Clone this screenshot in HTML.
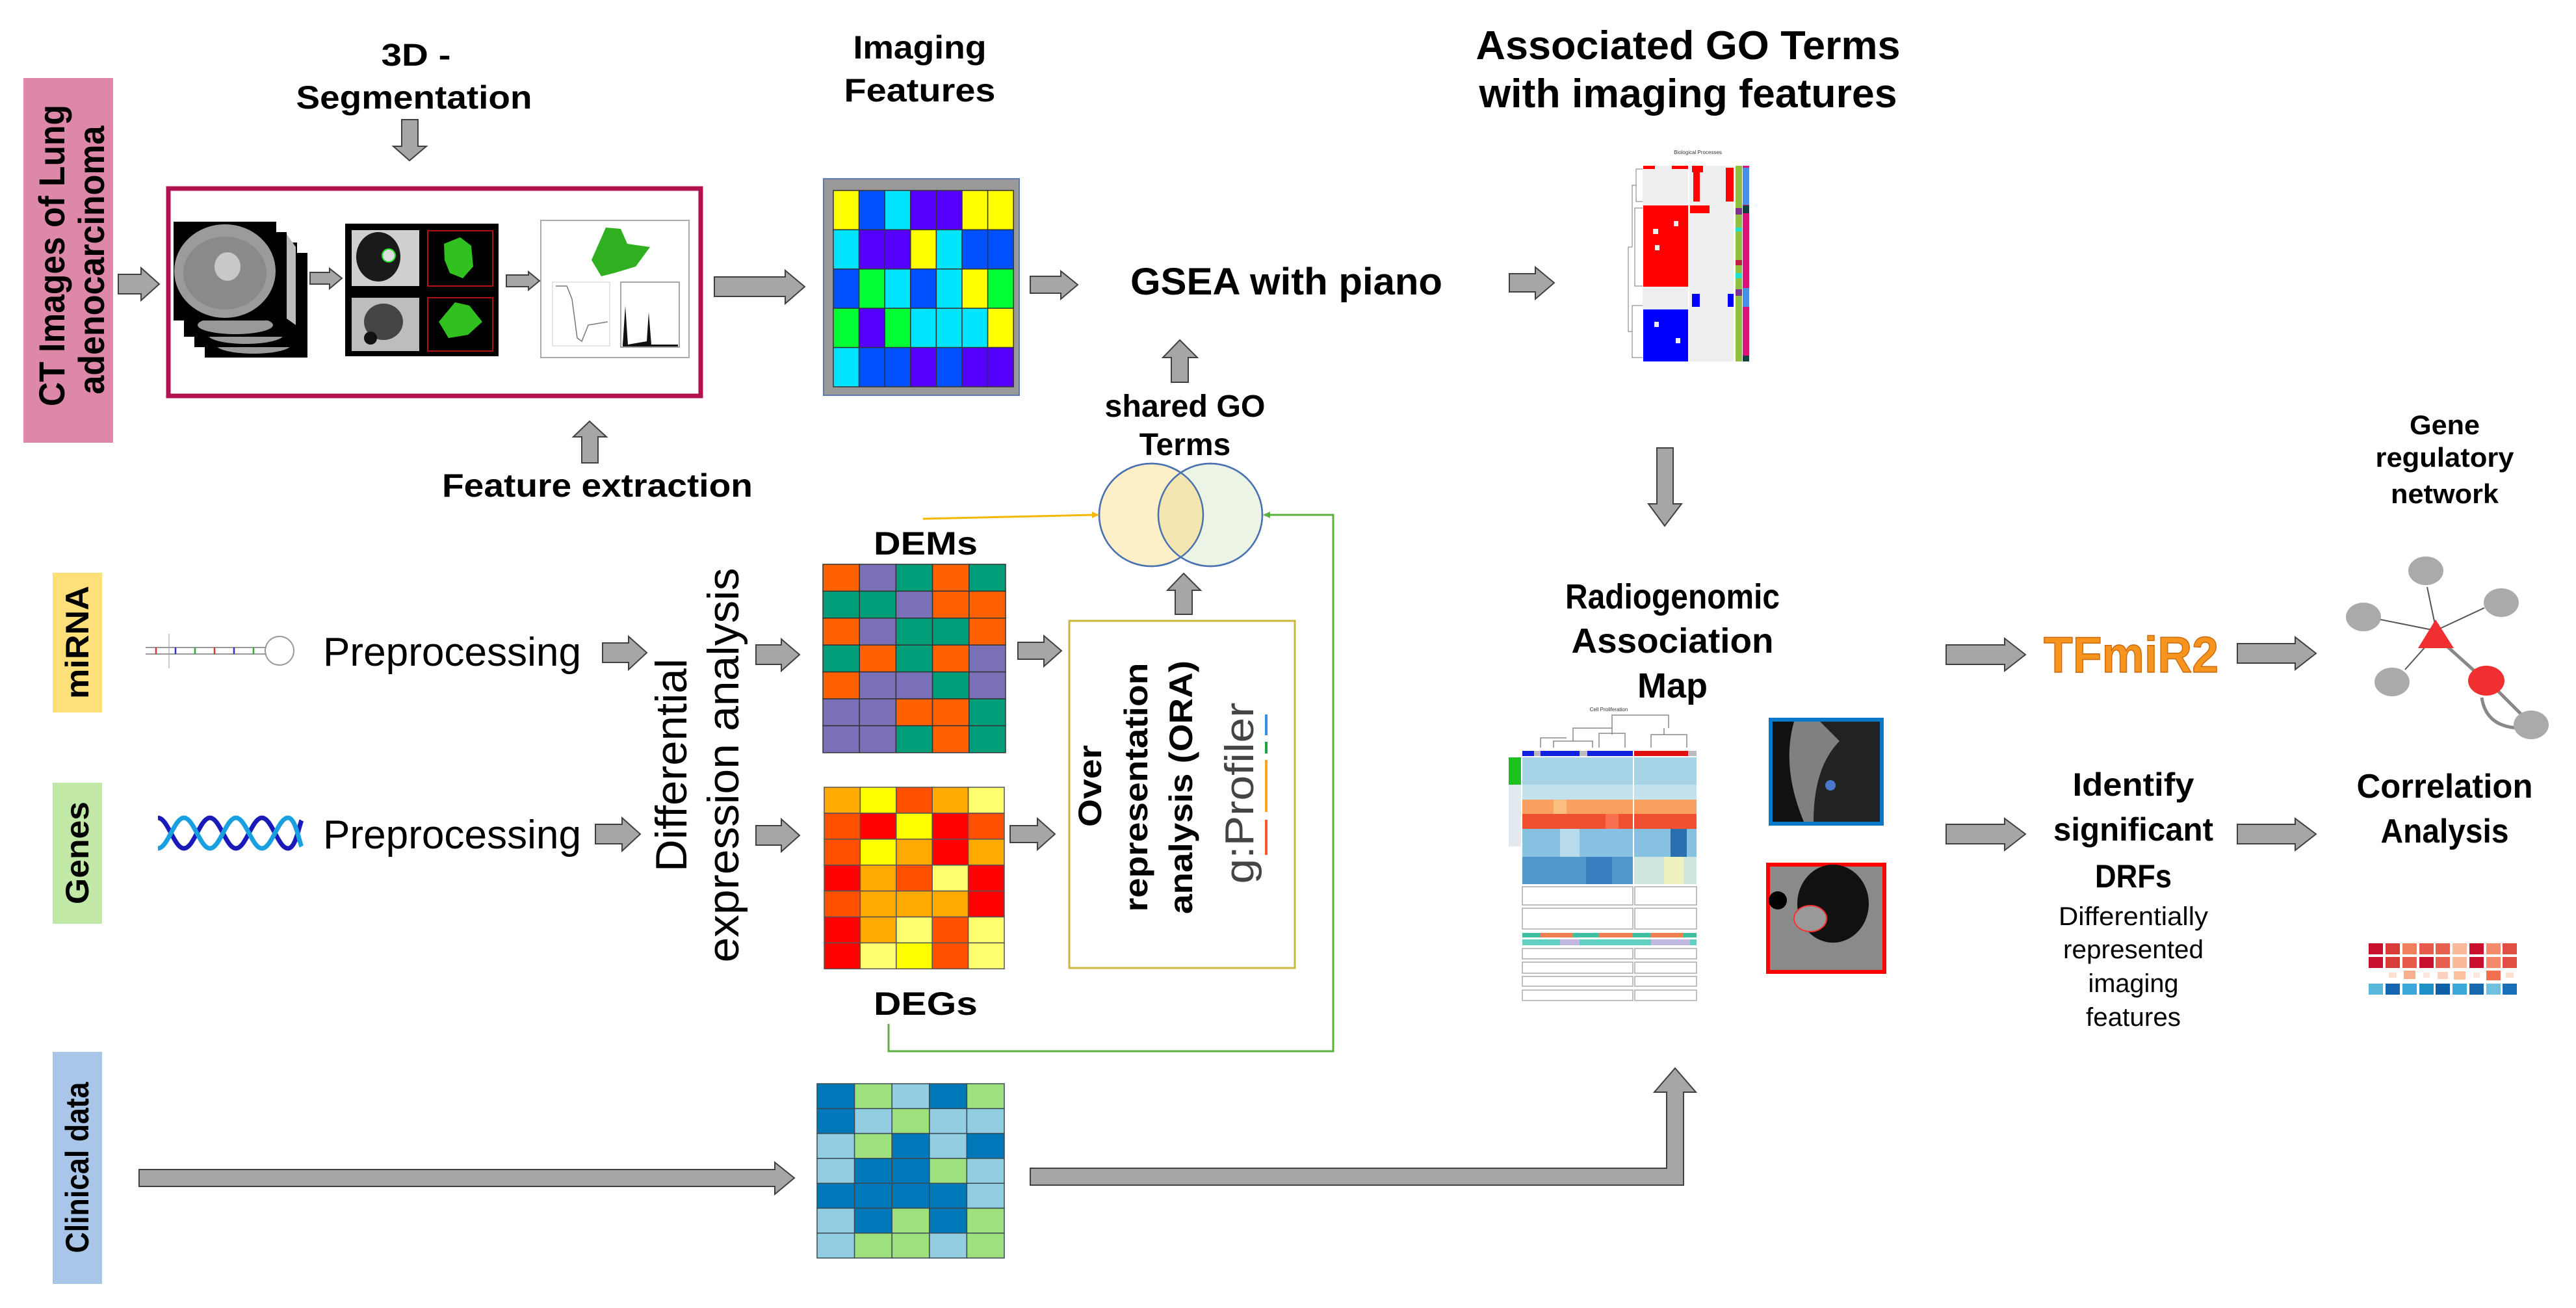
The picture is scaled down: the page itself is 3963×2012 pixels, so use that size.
<!DOCTYPE html>
<html><head><meta charset="utf-8"><style>
html,body{margin:0;padding:0;background:#fff}
svg{display:block}
text{font-family:"Liberation Sans",sans-serif}
</style></head><body>
<svg width="3963" height="2012" viewBox="0 0 3963 2012" xmlns="http://www.w3.org/2000/svg">
<rect width="3963" height="2012" fill="#fff"/>

<!-- side labels -->
<rect x="36" y="120" width="138" height="561" fill="#dd88a8"/>
<text transform="translate(99,393) rotate(-90)" text-anchor="middle" font-size="56" font-weight="bold" textLength="464" lengthAdjust="spacingAndGlyphs">CT Images of Lung</text>
<text transform="translate(160,400) rotate(-90)" text-anchor="middle" font-size="56" font-weight="bold" textLength="413" lengthAdjust="spacingAndGlyphs">adenocarcinoma</text>
<rect x="81" y="881" width="76" height="215" fill="#fde07a"/>
<text transform="translate(136,988) rotate(-90)" text-anchor="middle" font-size="50" font-weight="bold" textLength="174" lengthAdjust="spacingAndGlyphs">miRNA</text>
<rect x="81" y="1204" width="76" height="217" fill="#c2e8a8"/>
<text transform="translate(136,1312) rotate(-90)" text-anchor="middle" font-size="50" font-weight="bold" textLength="158" lengthAdjust="spacingAndGlyphs">Genes</text>
<rect x="81" y="1618" width="76" height="357" fill="#a9c6e8"/>
<text transform="translate(136,1796) rotate(-90)" text-anchor="middle" font-size="50" font-weight="bold" textLength="263" lengthAdjust="spacingAndGlyphs">Clinical data</text>

<!-- titles -->
<g font-weight="bold" text-anchor="middle">
<text x="640" y="101" font-size="48" textLength="107" lengthAdjust="spacingAndGlyphs">3D -</text>
<text x="637" y="167" font-size="50" textLength="363" lengthAdjust="spacingAndGlyphs">Segmentation</text>
<text x="919" y="764" font-size="50" textLength="478" lengthAdjust="spacingAndGlyphs">Feature extraction</text>
<text x="1415" y="90" font-size="50" textLength="205" lengthAdjust="spacingAndGlyphs">Imaging</text>
<text x="1415" y="156" font-size="50" textLength="233" lengthAdjust="spacingAndGlyphs">Features</text>
<text x="1979" y="453" font-size="58" textLength="480" lengthAdjust="spacingAndGlyphs">GSEA with piano</text>
<text x="1823" y="641" font-size="48" textLength="247" lengthAdjust="spacingAndGlyphs">shared GO</text>
<text x="1823" y="700" font-size="48">Terms</text>
<text x="2597" y="91" font-size="62" textLength="653" lengthAdjust="spacingAndGlyphs">Associated GO Terms</text>
<text x="2597" y="165" font-size="62" textLength="643" lengthAdjust="spacingAndGlyphs">with imaging features</text>
<text x="1424" y="853" font-size="50" textLength="160" lengthAdjust="spacingAndGlyphs">DEMs</text>
<text x="1424" y="1561" font-size="50" textLength="160" lengthAdjust="spacingAndGlyphs">DEGs</text>
<text x="2573" y="936" font-size="54" textLength="330" lengthAdjust="spacingAndGlyphs">Radiogenomic</text>
<text x="2573" y="1004" font-size="54" textLength="311" lengthAdjust="spacingAndGlyphs">Association</text>
<text x="2573" y="1073" font-size="54">Map</text>
<text x="3282" y="1224" font-size="50" textLength="187" lengthAdjust="spacingAndGlyphs">Identify</text>
<text x="3282" y="1293" font-size="50" textLength="246" lengthAdjust="spacingAndGlyphs">significant</text>
<text x="3282" y="1365" font-size="50" textLength="118" lengthAdjust="spacingAndGlyphs">DRFs</text>
<text x="3761" y="668" font-size="42" textLength="108" lengthAdjust="spacingAndGlyphs">Gene</text>
<text x="3761" y="718" font-size="42" textLength="213" lengthAdjust="spacingAndGlyphs">regulatory</text>
<text x="3761" y="774" font-size="42" textLength="166" lengthAdjust="spacingAndGlyphs">network</text>
<text x="3761" y="1227" font-size="52" textLength="271" lengthAdjust="spacingAndGlyphs">Correlation</text>
<text x="3761" y="1296" font-size="52" textLength="197" lengthAdjust="spacingAndGlyphs">Analysis</text>
</g>
<g text-anchor="middle" font-size="40">
<text x="3282" y="1423" textLength="230" lengthAdjust="spacingAndGlyphs">Differentially</text>
<text x="3282" y="1474" textLength="216" lengthAdjust="spacingAndGlyphs">represented</text>
<text x="3282" y="1526" textLength="139" lengthAdjust="spacingAndGlyphs">imaging</text>
<text x="3282" y="1578" textLength="146" lengthAdjust="spacingAndGlyphs">features</text>
</g>
<text x="3144" y="1034" font-size="78" font-weight="bold" fill="#f7941d" stroke="#c86a10" stroke-width="1.5" textLength="269" lengthAdjust="spacingAndGlyphs">TFmiR2</text>

<text x="497" y="1024" font-size="62" textLength="397" lengthAdjust="spacingAndGlyphs">Preprocessing</text>
<text x="497" y="1305" font-size="62" textLength="397" lengthAdjust="spacingAndGlyphs">Preprocessing</text>
<text transform="translate(1056,1177) rotate(-90)" text-anchor="middle" font-size="68" textLength="328" lengthAdjust="spacingAndGlyphs">Differential</text>
<text transform="translate(1136,1177) rotate(-90)" text-anchor="middle" font-size="68" textLength="607" lengthAdjust="spacingAndGlyphs">expression analysis</text>

<!-- ORA box -->
<rect x="1645" y="955" width="347" height="534" fill="#fff" stroke="#c8b840" stroke-width="3"/>
<g font-weight="bold" text-anchor="middle" font-size="50">
<text transform="translate(1694,1209) rotate(-90)" textLength="126" lengthAdjust="spacingAndGlyphs">Over</text>
<text transform="translate(1765,1211) rotate(-90)" textLength="383" lengthAdjust="spacingAndGlyphs">representation</text>
<text transform="translate(1834,1211) rotate(-90)" textLength="390" lengthAdjust="spacingAndGlyphs">analysis (ORA)</text>
</g>
<text transform="translate(1928,1220) rotate(-90)" text-anchor="middle" font-size="62" fill="#444" textLength="279" lengthAdjust="spacingAndGlyphs">g:Profiler</text>
<rect x="1946" y="1099" width="4" height="32" fill="#3a8ee0"/>
<rect x="1946" y="1141" width="4" height="18" fill="#20a040"/>
<rect x="1946" y="1169" width="4" height="80" fill="#f5a623"/>
<rect x="1946" y="1261" width="4" height="54" fill="#f05a30"/>

<!-- red segmentation box -->
<rect x="259" y="290" width="819" height="319" fill="#fff" stroke="#b0124f" stroke-width="7"/>
<!-- CT stack -->
<g>
<rect x="315" y="389" width="158" height="161" fill="#000"/>
<ellipse cx="390" cy="530" rx="58" ry="14" fill="#9a9a9a"/>
<rect x="299" y="373" width="158" height="161" fill="#000"/>
<ellipse cx="378" cy="515" rx="58" ry="14" fill="#999"/>
<rect x="283" y="357" width="158" height="161" fill="#000"/>
<ellipse cx="362" cy="500" rx="58" ry="14" fill="#999"/>
<rect x="267" y="341" width="158" height="152" fill="#000"/>
<ellipse cx="346" cy="417" rx="78" ry="72" fill="#9b9b9b"/>
<ellipse cx="346" cy="420" rx="64" ry="56" fill="#8a8a8a"/>
<ellipse cx="350" cy="410" rx="20" ry="22" fill="#c8c8c8"/>
<path d="M441 360 L455 380 L455 500 L441 490Z" fill="#bbb"/>
</g>
<!-- seg panel -->
<rect x="531" y="344" width="236" height="204" fill="#000"/>
<rect x="541" y="354" width="104" height="86" fill="#cfcfcf"/>
<ellipse cx="582" cy="395" rx="34" ry="38" fill="#1a1a1a"/>
<circle cx="598" cy="393" r="10" fill="#ddd" stroke="#20e020" stroke-width="2"/>
<rect x="658" y="355" width="100" height="85" fill="#000" stroke="#b01010" stroke-width="2"/>
<path d="M683 375 L708 365 L725 378 L728 410 L712 428 L692 420 L684 400Z" fill="#30c020"/>
<rect x="541" y="458" width="104" height="82" fill="#bdbdbd"/>
<ellipse cx="590" cy="495" rx="30" ry="28" fill="#444"/>
<circle cx="570" cy="520" r="10" fill="#111"/>
<rect x="658" y="458" width="100" height="82" fill="#000" stroke="#b01010" stroke-width="2"/>
<path d="M675 495 L700 465 L722 470 L742 495 L720 515 L690 520Z" fill="#30c020"/>
<!-- features panel -->
<rect x="832" y="339" width="228" height="211" fill="#fff" stroke="#aaa" stroke-width="2"/>
<path d="M910 400 L932 350 L955 352 L965 375 L1000 380 L978 410 L945 420 L925 425Z" fill="#30b020"/>
<rect x="850" y="434" width="88" height="98" fill="#fff" stroke="#ccc" stroke-width="1"/>
<path d="M855 440 L872 440 L880 460 L888 520 L895 525 L905 500 L935 495" fill="none" stroke="#777" stroke-width="1.5"/>
<rect x="955" y="434" width="90" height="100" fill="#fff" stroke="#888" stroke-width="1.5"/>
<path d="M958 530 L962 470 L966 530 L995 525 L998 480 L1002 530 L1043 530 L1043 533 L958 533Z" fill="#111"/>

<!-- Imaging features grid -->
<rect x="1267" y="275" width="301" height="333" fill="#999" stroke="#5a7ab0" stroke-width="2"/>
<g stroke="#333" stroke-width="1.5">
<!-- 7 cols w 39.6, 5 rows h 60.4 start 1282,293 -->
<rect x="1282" y="293" width="39.6" height="60.4" fill="#ffff00"/><rect x="1321.6" y="293" width="39.6" height="60.4" fill="#0050ff"/><rect x="1361.2" y="293" width="39.6" height="60.4" fill="#00e5ff"/><rect x="1400.8" y="293" width="39.6" height="60.4" fill="#5500ff"/><rect x="1440.4" y="293" width="39.6" height="60.4" fill="#5500ff"/><rect x="1480" y="293" width="39.6" height="60.4" fill="#ffff00"/><rect x="1519.6" y="293" width="39.6" height="60.4" fill="#ffff00"/>
<rect x="1282" y="353.4" width="39.6" height="60.4" fill="#00e5ff"/><rect x="1321.6" y="353.4" width="39.6" height="60.4" fill="#5500ff"/><rect x="1361.2" y="353.4" width="39.6" height="60.4" fill="#5500ff"/><rect x="1400.8" y="353.4" width="39.6" height="60.4" fill="#ffff00"/><rect x="1440.4" y="353.4" width="39.6" height="60.4" fill="#00e5ff"/><rect x="1480" y="353.4" width="39.6" height="60.4" fill="#0050ff"/><rect x="1519.6" y="353.4" width="39.6" height="60.4" fill="#0050ff"/>
<rect x="1282" y="413.8" width="39.6" height="60.4" fill="#0050ff"/><rect x="1321.6" y="413.8" width="39.6" height="60.4" fill="#00ff33"/><rect x="1361.2" y="413.8" width="39.6" height="60.4" fill="#00e5ff"/><rect x="1400.8" y="413.8" width="39.6" height="60.4" fill="#0050ff"/><rect x="1440.4" y="413.8" width="39.6" height="60.4" fill="#00e5ff"/><rect x="1480" y="413.8" width="39.6" height="60.4" fill="#ffff00"/><rect x="1519.6" y="413.8" width="39.6" height="60.4" fill="#00ff33"/>
<rect x="1282" y="474.2" width="39.6" height="60.4" fill="#00ff33"/><rect x="1321.6" y="474.2" width="39.6" height="60.4" fill="#5500ff"/><rect x="1361.2" y="474.2" width="39.6" height="60.4" fill="#00ff33"/><rect x="1400.8" y="474.2" width="39.6" height="60.4" fill="#00e5ff"/><rect x="1440.4" y="474.2" width="39.6" height="60.4" fill="#00e5ff"/><rect x="1480" y="474.2" width="39.6" height="60.4" fill="#00e5ff"/><rect x="1519.6" y="474.2" width="39.6" height="60.4" fill="#ffff00"/>
<rect x="1282" y="534.6" width="39.6" height="60.4" fill="#00e5ff"/><rect x="1321.6" y="534.6" width="39.6" height="60.4" fill="#0050ff"/><rect x="1361.2" y="534.6" width="39.6" height="60.4" fill="#0050ff"/><rect x="1400.8" y="534.6" width="39.6" height="60.4" fill="#5500ff"/><rect x="1440.4" y="534.6" width="39.6" height="60.4" fill="#0050ff"/><rect x="1480" y="534.6" width="39.6" height="60.4" fill="#5500ff"/><rect x="1519.6" y="534.6" width="39.6" height="60.4" fill="#5500ff"/>
</g>

<!-- DEMs grid 5x7: x1266 w56.2, y868 h41.4 -->
<g stroke="#333" stroke-width="1.5">
<rect x="1266" y="868" width="56.2" height="41.4" fill="#ff6000"/><rect x="1322.2" y="868" width="56.2" height="41.4" fill="#7a70b8"/><rect x="1378.4" y="868" width="56.2" height="41.4" fill="#009e78"/><rect x="1434.6" y="868" width="56.2" height="41.4" fill="#ff6000"/><rect x="1490.8" y="868" width="56.2" height="41.4" fill="#009e78"/>
<rect x="1266" y="909.4" width="56.2" height="41.4" fill="#009e78"/><rect x="1322.2" y="909.4" width="56.2" height="41.4" fill="#009e78"/><rect x="1378.4" y="909.4" width="56.2" height="41.4" fill="#7a70b8"/><rect x="1434.6" y="909.4" width="56.2" height="41.4" fill="#ff6000"/><rect x="1490.8" y="909.4" width="56.2" height="41.4" fill="#ff6000"/>
<rect x="1266" y="950.8" width="56.2" height="41.4" fill="#ff6000"/><rect x="1322.2" y="950.8" width="56.2" height="41.4" fill="#7a70b8"/><rect x="1378.4" y="950.8" width="56.2" height="41.4" fill="#009e78"/><rect x="1434.6" y="950.8" width="56.2" height="41.4" fill="#009e78"/><rect x="1490.8" y="950.8" width="56.2" height="41.4" fill="#ff6000"/>
<rect x="1266" y="992.2" width="56.2" height="41.4" fill="#009e78"/><rect x="1322.2" y="992.2" width="56.2" height="41.4" fill="#ff6000"/><rect x="1378.4" y="992.2" width="56.2" height="41.4" fill="#009e78"/><rect x="1434.6" y="992.2" width="56.2" height="41.4" fill="#ff6000"/><rect x="1490.8" y="992.2" width="56.2" height="41.4" fill="#7a70b8"/>
<rect x="1266" y="1033.6" width="56.2" height="41.4" fill="#ff6000"/><rect x="1322.2" y="1033.6" width="56.2" height="41.4" fill="#7a70b8"/><rect x="1378.4" y="1033.6" width="56.2" height="41.4" fill="#7a70b8"/><rect x="1434.6" y="1033.6" width="56.2" height="41.4" fill="#009e78"/><rect x="1490.8" y="1033.6" width="56.2" height="41.4" fill="#7a70b8"/>
<rect x="1266" y="1075" width="56.2" height="41.4" fill="#7a70b8"/><rect x="1322.2" y="1075" width="56.2" height="41.4" fill="#7a70b8"/><rect x="1378.4" y="1075" width="56.2" height="41.4" fill="#ff6000"/><rect x="1434.6" y="1075" width="56.2" height="41.4" fill="#ff6000"/><rect x="1490.8" y="1075" width="56.2" height="41.4" fill="#009e78"/>
<rect x="1266" y="1116.4" width="56.2" height="41.4" fill="#7a70b8"/><rect x="1322.2" y="1116.4" width="56.2" height="41.4" fill="#7a70b8"/><rect x="1378.4" y="1116.4" width="56.2" height="41.4" fill="#009e78"/><rect x="1434.6" y="1116.4" width="56.2" height="41.4" fill="#ff6000"/><rect x="1490.8" y="1116.4" width="56.2" height="41.4" fill="#009e78"/>
</g>

<!-- DEGs grid: x1268 w55.4, y1211 h39.9 -->
<g stroke="#555" stroke-width="1.5">
<rect x="1268" y="1211" width="55.4" height="39.9" fill="#ffaa00"/><rect x="1323.4" y="1211" width="55.4" height="39.9" fill="#ffff00"/><rect x="1378.8" y="1211" width="55.4" height="39.9" fill="#ff5000"/><rect x="1434.2" y="1211" width="55.4" height="39.9" fill="#ffaa00"/><rect x="1489.6" y="1211" width="55.4" height="39.9" fill="#ffff70"/>
<rect x="1268" y="1250.9" width="55.4" height="39.9" fill="#ff5000"/><rect x="1323.4" y="1250.9" width="55.4" height="39.9" fill="#ff0000"/><rect x="1378.8" y="1250.9" width="55.4" height="39.9" fill="#ffff00"/><rect x="1434.2" y="1250.9" width="55.4" height="39.9" fill="#ff0000"/><rect x="1489.6" y="1250.9" width="55.4" height="39.9" fill="#ff5000"/>
<rect x="1268" y="1290.8" width="55.4" height="39.9" fill="#ff5000"/><rect x="1323.4" y="1290.8" width="55.4" height="39.9" fill="#ffff00"/><rect x="1378.8" y="1290.8" width="55.4" height="39.9" fill="#ffaa00"/><rect x="1434.2" y="1290.8" width="55.4" height="39.9" fill="#ff0000"/><rect x="1489.6" y="1290.8" width="55.4" height="39.9" fill="#ffaa00"/>
<rect x="1268" y="1330.7" width="55.4" height="39.9" fill="#ff0000"/><rect x="1323.4" y="1330.7" width="55.4" height="39.9" fill="#ffaa00"/><rect x="1378.8" y="1330.7" width="55.4" height="39.9" fill="#ff5000"/><rect x="1434.2" y="1330.7" width="55.4" height="39.9" fill="#ffff70"/><rect x="1489.6" y="1330.7" width="55.4" height="39.9" fill="#ff0000"/>
<rect x="1268" y="1370.6" width="55.4" height="39.9" fill="#ff5000"/><rect x="1323.4" y="1370.6" width="55.4" height="39.9" fill="#ffaa00"/><rect x="1378.8" y="1370.6" width="55.4" height="39.9" fill="#ffaa00"/><rect x="1434.2" y="1370.6" width="55.4" height="39.9" fill="#ffaa00"/><rect x="1489.6" y="1370.6" width="55.4" height="39.9" fill="#ff0000"/>
<rect x="1268" y="1410.5" width="55.4" height="39.9" fill="#ff0000"/><rect x="1323.4" y="1410.5" width="55.4" height="39.9" fill="#ffaa00"/><rect x="1378.8" y="1410.5" width="55.4" height="39.9" fill="#ffff70"/><rect x="1434.2" y="1410.5" width="55.4" height="39.9" fill="#ff5000"/><rect x="1489.6" y="1410.5" width="55.4" height="39.9" fill="#ffff70"/>
<rect x="1268" y="1450.4" width="55.4" height="39.9" fill="#ff0000"/><rect x="1323.4" y="1450.4" width="55.4" height="39.9" fill="#ffff70"/><rect x="1378.8" y="1450.4" width="55.4" height="39.9" fill="#ffff00"/><rect x="1434.2" y="1450.4" width="55.4" height="39.9" fill="#ff5000"/><rect x="1489.6" y="1450.4" width="55.4" height="39.9" fill="#ffff70"/>
</g>

<!-- Clinical grid: x1257 w57.6, y1667 h38.3 -->
<g stroke="#3a4a50" stroke-width="1.5">
<rect x="1257" y="1667" width="57.6" height="38.3" fill="#0077b8"/><rect x="1314.6" y="1667" width="57.6" height="38.3" fill="#9ee07e"/><rect x="1372.2" y="1667" width="57.6" height="38.3" fill="#92cde2"/><rect x="1429.8" y="1667" width="57.6" height="38.3" fill="#0077b8"/><rect x="1487.4" y="1667" width="57.6" height="38.3" fill="#9ee07e"/>
<rect x="1257" y="1705.3" width="57.6" height="38.3" fill="#0077b8"/><rect x="1314.6" y="1705.3" width="57.6" height="38.3" fill="#92cde2"/><rect x="1372.2" y="1705.3" width="57.6" height="38.3" fill="#9ee07e"/><rect x="1429.8" y="1705.3" width="57.6" height="38.3" fill="#92cde2"/><rect x="1487.4" y="1705.3" width="57.6" height="38.3" fill="#92cde2"/>
<rect x="1257" y="1743.6" width="57.6" height="38.3" fill="#92cde2"/><rect x="1314.6" y="1743.6" width="57.6" height="38.3" fill="#9ee07e"/><rect x="1372.2" y="1743.6" width="57.6" height="38.3" fill="#0077b8"/><rect x="1429.8" y="1743.6" width="57.6" height="38.3" fill="#92cde2"/><rect x="1487.4" y="1743.6" width="57.6" height="38.3" fill="#0077b8"/>
<rect x="1257" y="1781.9" width="57.6" height="38.3" fill="#92cde2"/><rect x="1314.6" y="1781.9" width="57.6" height="38.3" fill="#0077b8"/><rect x="1372.2" y="1781.9" width="57.6" height="38.3" fill="#0077b8"/><rect x="1429.8" y="1781.9" width="57.6" height="38.3" fill="#9ee07e"/><rect x="1487.4" y="1781.9" width="57.6" height="38.3" fill="#92cde2"/>
<rect x="1257" y="1820.2" width="57.6" height="38.3" fill="#0077b8"/><rect x="1314.6" y="1820.2" width="57.6" height="38.3" fill="#0077b8"/><rect x="1372.2" y="1820.2" width="57.6" height="38.3" fill="#0077b8"/><rect x="1429.8" y="1820.2" width="57.6" height="38.3" fill="#0077b8"/><rect x="1487.4" y="1820.2" width="57.6" height="38.3" fill="#92cde2"/>
<rect x="1257" y="1858.5" width="57.6" height="38.3" fill="#92cde2"/><rect x="1314.6" y="1858.5" width="57.6" height="38.3" fill="#0077b8"/><rect x="1372.2" y="1858.5" width="57.6" height="38.3" fill="#9ee07e"/><rect x="1429.8" y="1858.5" width="57.6" height="38.3" fill="#0077b8"/><rect x="1487.4" y="1858.5" width="57.6" height="38.3" fill="#9ee07e"/>
<rect x="1257" y="1896.8" width="57.6" height="38.3" fill="#92cde2"/><rect x="1314.6" y="1896.8" width="57.6" height="38.3" fill="#9ee07e"/><rect x="1372.2" y="1896.8" width="57.6" height="38.3" fill="#9ee07e"/><rect x="1429.8" y="1896.8" width="57.6" height="38.3" fill="#92cde2"/><rect x="1487.4" y="1896.8" width="57.6" height="38.3" fill="#9ee07e"/>
</g>

<!-- icons -->
<g stroke="#999" stroke-width="2" fill="none">
<line x1="224" y1="996" x2="410" y2="996"/><line x1="224" y1="1006" x2="410" y2="1006"/>
<circle cx="430" cy="1001" r="22"/>
<line x1="260" y1="975" x2="260" y2="1028" stroke-width="1"/>
</g>
<g stroke-width="2.5">
<line x1="240" y1="996" x2="240" y2="1006" stroke="#d33"/><line x1="270" y1="996" x2="270" y2="1006" stroke="#33c"/><line x1="300" y1="996" x2="300" y2="1006" stroke="#3a3"/><line x1="330" y1="996" x2="330" y2="1006" stroke="#d33"/><line x1="360" y1="996" x2="360" y2="1006" stroke="#33c"/><line x1="390" y1="996" x2="390" y2="1006" stroke="#3a3"/>
</g>
<g fill="none" stroke-width="7">
<path d="M243 1258 C258 1258 268 1305 283 1305 C298 1305 308 1258 323 1258 C338 1258 348 1305 363 1305 C378 1305 388 1258 403 1258 C418 1258 428 1305 443 1305 C455 1305 460 1270 464 1262" stroke="#1a1ab8"/>
<path d="M243 1305 C258 1305 268 1258 283 1258 C298 1258 308 1305 323 1305 C338 1305 348 1258 363 1258 C378 1258 388 1305 403 1305 C418 1305 428 1258 443 1258 C455 1258 460 1295 464 1302" stroke="#18a0e0"/>
</g>

<!-- Venn -->
<ellipse cx="1771" cy="792" rx="80" ry="79" fill="#fdf0c8" stroke="#4a72b0" stroke-width="2.5"/>
<ellipse cx="1862" cy="792" rx="80" ry="79" fill="#e8f2e0" fill-opacity="0.85" stroke="#4a72b0" stroke-width="2.5"/>
<path d="M1816.5 727 A80 79 0 0 1 1816.5 857 A80 79 0 0 1 1816.5 727Z" fill="#f3e6b0"/>
<ellipse cx="1771" cy="792" rx="80" ry="79" fill="none" stroke="#4a72b0" stroke-width="2.5"/>
<ellipse cx="1862" cy="792" rx="80" ry="79" fill="none" stroke="#4a72b0" stroke-width="2.5"/>
<line x1="1420" y1="798" x2="1684" y2="792" stroke="#f5b800" stroke-width="3"/>
<polygon points="1691,792 1680,787 1680,797" fill="#f5b800"/>
<polyline points="1367,1575 1367,1617 2051,1617 2051,792 1952,792" fill="none" stroke="#5cb040" stroke-width="3"/>
<polygon points="1943,792 1954,787 1954,797" fill="#5cb040"/>

<!-- GO heatmap -->
<text x="2612" y="237" font-size="8" text-anchor="middle" fill="#333">Biological Processes</text>
<rect x="2527" y="255" width="140" height="301" fill="#eeeeee"/>
<line x1="2598" y1="255" x2="2598" y2="556" stroke="#fff" stroke-width="2"/>
<rect x="2528" y="316" width="69" height="125" fill="#ff0000"/>
<rect x="2528" y="255" width="18" height="5" fill="#ff0000"/><rect x="2572" y="255" width="25" height="5" fill="#ff0000"/>
<rect x="2603" y="255" width="17" height="10" fill="#ff0000"/><rect x="2605" y="265" width="10" height="45" fill="#ff0000"/>
<rect x="2655" y="258" width="12" height="52" fill="#ff0000"/>
<rect x="2600" y="316" width="30" height="12" fill="#ff0000"/>
<rect x="2528" y="476" width="69" height="80" fill="#0000ff"/>
<rect x="2603" y="452" width="12" height="20" fill="#0000ff"/><rect x="2658" y="452" width="9" height="20" fill="#0000ff"/>
<rect x="2543" y="352" width="8" height="8" fill="#eee"/><rect x="2546" y="377" width="7" height="8" fill="#eee"/><rect x="2575" y="340" width="7" height="8" fill="#eee"/>
<rect x="2545" y="495" width="7" height="8" fill="#eee"/><rect x="2578" y="520" width="7" height="8" fill="#eee"/>
<rect x="2670" y="255" width="10" height="301" fill="#90c040"/>
<rect x="2670" y="320" width="10" height="10" fill="#803090"/><rect x="2670" y="350" width="10" height="6" fill="#20e0d0"/><rect x="2670" y="400" width="10" height="8" fill="#c02040"/><rect x="2670" y="420" width="10" height="8" fill="#20e0d0"/><rect x="2670" y="445" width="10" height="10" fill="#803090"/>
<rect x="2681" y="255" width="10" height="301" fill="#e0107a"/>
<rect x="2681" y="258" width="10" height="57" fill="#4a90e0"/><rect x="2681" y="316" width="10" height="12" fill="#104040"/>
<rect x="2681" y="443" width="10" height="29" fill="#4a90e0"/><rect x="2681" y="547" width="10" height="9" fill="#104040"/>
<g stroke="#777" stroke-width="1" fill="none">
<path d="M2527 260 H2517 V310 H2527 M2517 285 H2511 V380 M2527 320 H2515 V440 H2527 M2511 380 H2505 V510 H2511 M2527 470 H2511 V550 H2527"/>
</g>

<!-- RAM heatmap -->
<text x="2475" y="1094" font-size="8" text-anchor="middle" fill="#333">Cell Proliferation</text>
<g stroke="#888" stroke-width="1.5" fill="none">
<path d="M2390 1150 V1140 H2450 V1150 M2420 1140 V1120 H2480 M2480 1130 V1100 H2567 V1120 M2370 1150 V1135 H2410 M2460 1150 V1128 H2500 V1150 M2540 1150 V1130 H2595 V1150 M2560 1130 V1120"/>
</g>
<rect x="2342" y="1155" width="170" height="8" fill="#1020e0"/><rect x="2514" y="1155" width="83" height="8" fill="#e01010"/><rect x="2597" y="1155" width="13" height="8" fill="#bbb"/>
<rect x="2360" y="1155" width="10" height="8" fill="#bbb"/><rect x="2430" y="1155" width="12" height="8" fill="#bbb"/>
<rect x="2321" y="1165" width="19" height="42" fill="#20c020"/>
<rect x="2321" y="1207" width="19" height="95" fill="#e3eaef"/>
<rect x="2342" y="1165" width="268" height="42" fill="#a8d4e8"/>
<rect x="2342" y="1207" width="268" height="23" fill="#c4e2ee"/>
<rect x="2342" y="1230" width="268" height="22" fill="#f8a060"/>
<rect x="2342" y="1252" width="268" height="23" fill="#f05030"/>
<rect x="2342" y="1275" width="268" height="43" fill="#88c2e2"/>
<rect x="2342" y="1318" width="170" height="42" fill="#4e98cc"/>
<rect x="2514" y="1318" width="96" height="42" fill="#cfe6e0"/>
<rect x="2400" y="1275" width="30" height="43" fill="#b8dcec"/><rect x="2570" y="1275" width="25" height="43" fill="#2a70b0"/>
<rect x="2440" y="1318" width="40" height="42" fill="#3a80c0"/><rect x="2560" y="1318" width="30" height="42" fill="#eef2c0"/>
<rect x="2390" y="1230" width="20" height="22" fill="#fbc080"/><rect x="2470" y="1252" width="20" height="23" fill="#f87050"/>
<line x1="2513" y1="1155" x2="2513" y2="1540" stroke="#fff" stroke-width="2"/>
<g fill="#fff" stroke="#aaa" stroke-width="1.5">
<rect x="2342" y="1364" width="170" height="28"/><rect x="2515" y="1364" width="95" height="28"/>
<rect x="2342" y="1397" width="170" height="32"/><rect x="2515" y="1397" width="95" height="32"/>
<rect x="2342" y="1459" width="170" height="16"/><rect x="2515" y="1459" width="95" height="16"/>
<rect x="2342" y="1480" width="170" height="17"/><rect x="2515" y="1480" width="95" height="17"/>
<rect x="2342" y="1502" width="170" height="15"/><rect x="2515" y="1502" width="95" height="15"/>
<rect x="2342" y="1523" width="170" height="16"/><rect x="2515" y="1523" width="95" height="16"/>
</g>
<rect x="2342" y="1435" width="268" height="7" fill="#40c0a0"/><rect x="2370" y="1435" width="50" height="7" fill="#f08050"/><rect x="2460" y="1435" width="52" height="7" fill="#f08050"/><rect x="2540" y="1435" width="50" height="7" fill="#f08050"/>
<rect x="2342" y="1445" width="268" height="9" fill="#60d0c0"/><rect x="2400" y="1445" width="30" height="9" fill="#c0b8e0"/><rect x="2540" y="1445" width="60" height="9" fill="#c0b8e0"/>

<!-- small CT images -->
<rect x="2724" y="1107" width="171" height="160" fill="#808080" stroke="#0a78c8" stroke-width="6"/>
<path d="M2800 1110 Q2840 1110 2892 1110 L2892 1264 L2790 1264 Q2790 1180 2830 1140Z" fill="#222"/>
<path d="M2727 1110 L2760 1110 Q2740 1180 2775 1264 L2727 1264Z" fill="#111"/>
<circle cx="2816" cy="1208" r="8" fill="#4a7ad0"/>
<rect x="2720" y="1330" width="179" height="165" fill="#8a8a8a" stroke="#ff0000" stroke-width="6"/>
<ellipse cx="2820" cy="1390" rx="55" ry="60" fill="#111"/>
<circle cx="2735" cy="1385" r="14" fill="#000"/>
<ellipse cx="2785" cy="1413" rx="25" ry="20" fill="#999" stroke="#ff3030" stroke-width="2"/>

<!-- network -->
<g stroke="#555" stroke-width="2">
<line x1="3747" y1="965" x2="3734" y2="903"/><line x1="3747" y1="970" x2="3662" y2="953"/><line x1="3747" y1="970" x2="3822" y2="935"/><line x1="3740" y1="985" x2="3700" y2="1030"/>
<line x1="3760" y1="990" x2="3810" y2="1035" stroke="#888" stroke-width="5"/>
<line x1="3840" y1="1060" x2="3880" y2="1100" stroke="#888" stroke-width="5"/>
<path d="M3880 1120 Q3825 1120 3818 1073" fill="none" stroke="#888" stroke-width="5"/>
</g>
<ellipse cx="3732" cy="878" rx="27" ry="22" fill="#aaa"/>
<ellipse cx="3636" cy="949" rx="27" ry="22" fill="#aaa"/>
<ellipse cx="3848" cy="927" rx="27" ry="22" fill="#aaa"/>
<ellipse cx="3680" cy="1049" rx="27" ry="22" fill="#aaa"/>
<ellipse cx="3894" cy="1115" rx="27" ry="22" fill="#aaa"/>
<ellipse cx="3825" cy="1047" rx="28" ry="23" fill="#f03030"/>
<polygon points="3747,953 3720,997 3775,997" fill="#f03030"/>

<!-- correlation heatmap -->
<g>
<rect x="3642" y="1449" width="232" height="83" fill="#fff"/>
<rect x="3644" y="1451" width="22" height="17" fill="#c8102e"/><rect x="3670" y="1451" width="22" height="17" fill="#d93a3a"/><rect x="3696" y="1451" width="22" height="17" fill="#f08060"/><rect x="3722" y="1451" width="22" height="17" fill="#e85a4a"/><rect x="3747" y="1451" width="22" height="17" fill="#e86050"/><rect x="3773" y="1451" width="22" height="17" fill="#fbb89a"/><rect x="3799" y="1451" width="22" height="17" fill="#c8102e"/><rect x="3825" y="1451" width="22" height="17" fill="#f58a6a"/><rect x="3850" y="1451" width="22" height="17" fill="#e05040"/>
<rect x="3644" y="1472" width="22" height="17" fill="#c8102e"/><rect x="3670" y="1472" width="22" height="17" fill="#d93a3a"/><rect x="3696" y="1472" width="22" height="17" fill="#e85a4a"/><rect x="3722" y="1472" width="22" height="17" fill="#c8102e"/><rect x="3747" y="1472" width="22" height="17" fill="#e86050"/><rect x="3773" y="1472" width="22" height="17" fill="#fbb89a"/><rect x="3799" y="1472" width="22" height="17" fill="#c8102e"/><rect x="3825" y="1472" width="22" height="17" fill="#f58a6a"/><rect x="3850" y="1472" width="22" height="17" fill="#e05040"/>
<rect x="3675" y="1496" width="12" height="8" fill="#fde0d0"/><rect x="3698" y="1493" width="18" height="13" fill="#f8b090"/><rect x="3728" y="1496" width="10" height="8" fill="#fde8e0"/><rect x="3750" y="1495" width="16" height="11" fill="#fdd0c0"/><rect x="3775" y="1494" width="18" height="13" fill="#fbc0a0"/><rect x="3805" y="1496" width="10" height="8" fill="#fde8e0"/><rect x="3825" y="1493" width="22" height="15" fill="#f07050"/><rect x="3855" y="1496" width="12" height="8" fill="#fde0d0"/>
<rect x="3644" y="1513" width="22" height="17" fill="#5ab8dc"/><rect x="3670" y="1513" width="22" height="17" fill="#1565b0"/><rect x="3696" y="1513" width="22" height="17" fill="#3aa8d8"/><rect x="3722" y="1513" width="22" height="17" fill="#2090c8"/><rect x="3747" y="1513" width="22" height="17" fill="#1060a8"/><rect x="3773" y="1513" width="22" height="17" fill="#3aa8d8"/><rect x="3799" y="1513" width="22" height="17" fill="#1868b0"/><rect x="3825" y="1513" width="22" height="17" fill="#70c0e0"/><rect x="3850" y="1513" width="22" height="17" fill="#1a70b8"/>
</g>

<!-- block arrows -->
<g fill="#a6a6a6" stroke="#404040" stroke-width="2" stroke-linejoin="miter">
<polygon points="182,422 217,422 217,412 245,437 217,462 217,452 182,452"/>
<polygon points="477,419 507,419 507,413 526,428 507,444 507,437 477,437"/>
<polygon points="779,423 813,423 813,418 830,432 813,446 813,441 779,441"/>
<polygon points="1099,426 1208,426 1208,416 1238,441 1208,467 1208,456 1099,456"/>
<polygon points="1585,425 1632,425 1632,417 1658,438 1632,460 1632,451 1585,451"/>
<polygon points="2322,421 2362,421 2362,411 2391,435 2362,460 2362,449 2322,449"/>
<polygon points="927,989 967,989 967,979 995,1004 967,1030 967,1019 927,1019"/>
<polygon points="916,1268 957,1268 957,1258 985,1283 957,1309 957,1298 916,1298"/>
<polygon points="1163,992 1202,992 1202,983 1230,1007 1202,1032 1202,1022 1163,1022"/>
<polygon points="1163,1270 1202,1270 1202,1260 1230,1285 1202,1310 1202,1300 1163,1300"/>
<polygon points="1566,988 1606,988 1606,978 1633,1001 1606,1025 1606,1014 1566,1014"/>
<polygon points="1554,1270 1596,1270 1596,1259 1623,1283 1596,1307 1596,1296 1554,1296"/>
<polygon points="214,1799 1192,1799 1192,1788 1222,1812 1192,1837 1192,1825 214,1825"/>
<polygon points="2994,992 3084,992 3084,982 3116,1007 3084,1032 3084,1022 2994,1022"/>
<polygon points="3442,990 3531,990 3531,980 3563,1005 3531,1030 3531,1020 3442,1020"/>
<polygon points="2994,1268 3084,1268 3084,1259 3116,1283 3084,1308 3084,1298 2994,1298"/>
<polygon points="3442,1268 3531,1268 3531,1259 3563,1283 3531,1308 3531,1298 3442,1298"/>
<polygon points="618,184 643,184 643,225 656,225 630,247 605,225 618,225"/>
<polygon points="2549,689 2574,689 2574,775 2587,775 2561,809 2536,775 2549,775"/>
<polygon points="907,648 933,672 920,672 920,712 895,712 895,672 882,672"/>
<polygon points="1815,523 1842,550 1828,550 1828,588 1802,588 1802,550 1789,550"/>
<polygon points="1821,882 1847,908 1834,908 1834,945 1808,945 1808,908 1796,908"/>
<polygon points="1585,1797 2564,1797 2564,1680 2545,1680 2577,1643 2609,1680 2590,1680 2590,1823 1585,1823"/>
</g>
</svg>
</body></html>
